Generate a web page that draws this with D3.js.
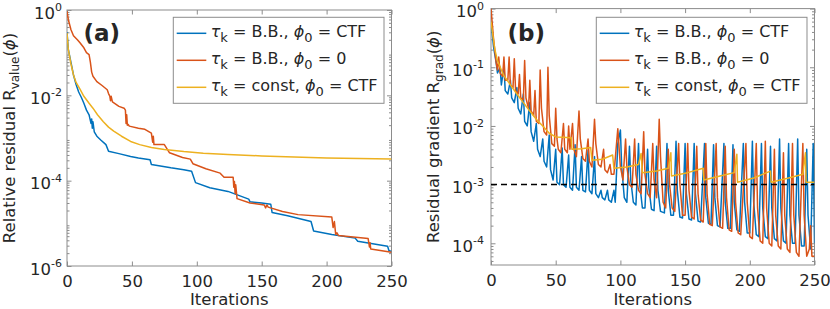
<!DOCTYPE html>
<html>
<head>
<meta charset="utf-8">
<script src="https://cdn.jsdelivr.net/npm/d3@7"></script>
<style>
  body { margin: 0; background: #fff; }
  svg text { font-family: "DejaVu Sans", sans-serif; fill: #262626; white-space: pre; }
</style>
</head>
<body>
<svg id="chart" width="830" height="309"></svg>
<script>
// ---- data ----
const iterTicks = [0, 50, 100, 150, 200, 250];
const valueTicks = [0, -2, -4, -6];          // exponents of 10
const gradTicks = [0, -1, -2, -3, -4];
const legendSteps = ['B.B.', 'B.B.', 'const'];
const legendInits = ['CTF', '0', 'CTF'];
const colors = ['#0072BD', '#D95319', '#EDB120'];
const gradThreshold = 1e-3;

// (a) relative residual, [iteration, value]
const valueBBctf = [[0,0.3],[1,0.12],[3,0.06],[5,0.03],[7,0.018],[9,0.012],[11,0.009],[13,0.0065],[15,0.0045],
  [17,0.0035],[18.5,0.0022],[19,0.0028],[19.5,0.0017],[20,0.0024],[21,0.0014],[23,0.0011],[26,0.0009],[30,0.0007],
  [32,0.00049],[40,0.00043],[49,0.00037],[55,0.00034],[64,0.00031],[65,0.00024],[80,0.0002],[90,0.00018],
  [96,0.000166],[99,0.00009],[110,0.000068],[124,0.000056],[140,0.000037],[141,0.000032],[150,0.00003],
  [157,0.000028],[158,0.000018],[170,0.000015],[188,0.000011],[190,0.0000066],[204,0.0000055],[222,0.0000045],
  [224,0.0000038],[247,0.0000029],[248,0.0000023],[250,0.0000022]];
const valueBBzero = [[0,0.93],[1,0.6],[3,0.35],[5,0.25],[8,0.2],[10,0.17],[13,0.13],[15,0.1],[17,0.09],[18,0.06],
  [19,0.035],[20,0.028],[23,0.021],[27,0.017],[31,0.0135],[32,0.011],[33,0.0095],[33.5,0.0075],[34,0.0095],
  [35,0.007],[40,0.0055],[44,0.005],[45,0.0045],[45.5,0.0022],[46,0.0035],[46.5,0.002],[47,0.0021],[48,0.0019],
  [55,0.0017],[60,0.0016],[65,0.0013],[66,0.0008],[66.5,0.0011],[67,0.0007],[75,0.0007],[79,0.00045],
  [89,0.00035],[95,0.00032],[97,0.00025],[107,0.00019],[118,0.00015],[121,0.00012],[128,0.00012],
  [128.5,0.00007],[129,0.000095],[129.5,0.00005],[130,0.00008],[131,0.000038],[141,0.00003],[152,0.000027],
  [153,0.000023],[154,0.000027],[155,0.000024],[166,0.000019],[178,0.000016],[204,0.000014],[205,0.000008],
  [206,0.000011],[207,0.0000055],[208,0.000006],[209,0.0000052],[232,0.0000044],[233,0.0000028],
  [233.5,0.0000035],[234,0.0000025],[250,0.0000021]];
const valueConstCtf = [[0,0.29],[1,0.12],[3,0.055],[5,0.03],[7,0.02],[10,0.014],[13,0.0095],[17,0.0065],[20,0.005],
  [23.5,0.0035],[28,0.0024],[32,0.0018],[36,0.00145],[42,0.0011],[49,0.00083],[56,0.0007],[65,0.0006],
  [75,0.00054],[90,0.00048],[105,0.00044],[124,0.00041],[150,0.00038],[175,0.00036],[200,0.00034],
  [225,0.00033],[250,0.00032]];

// (b) residual gradient, [iteration, value]
const gradBBctf = [[0,0.6],[2,0.22],[4,0.12],[5,0.08],[7,0.1],[8,0.05],[10,0.1],[11,0.04],[13,0.035],[15,0.06],
  [16,0.03],[18,0.025],[20,0.045],[21,0.02],[23,0.016],[25,0.035],[26,0.012],[28,0.01],[30,0.025],[31,0.008],
  [33,0.0055],[35,0.011],[36,0.004],[38,0.003],[40,0.006],[41,0.0025],[43,0.002],[45,0.007],[46,0.0018],
  [48,0.0012],[50,0.004],[51,0.0011],[53,0.001],[55,0.0042],[56,0.001],[58,0.0009],[60,0.0032],[61,0.0009],
  [63,0.0008],[65,0.0048],[66,0.0009],[68,0.0008],[70,0.003],[71,0.0008],[73,0.00075],[75,0.0038],[76,0.0008],
  [78,0.0007],[80,0.003],[81,0.0007],[83,0.0006],[85,0.0008],[86,0.0006],[88,0.00055],[90,0.0008],[91,0.00055],
  [93,0.0005],[95,0.0008],[96,0.0005],[98,0.005],[100,0.0085],[101,0.002],[103,0.0006],[105,0.0005],
  [107,0.0045],[108,0.0012],[110,0.0005],[112,0.00045],[114,0.005],[115,0.001],[117,0.0004],[119,0.0004],
  [121,0.004],[122,0.0009],[124,0.00038],[126,0.00036],[128,0.0045],[129,0.0008],[131,0.00035],[134,0.00033],
  [136,0.005],[137,0.0008],[139,0.0003],[141,0.0003],[143,0.0055],[144,0.0008],[146,0.00028],[148,0.00027],
  [150,0.005],[151,0.0007],[153,0.00026],[155,0.00025],[157,0.005],[158,0.0007],[160,0.00024],[162,0.00023],
  [165,0.005],[166,0.0006],[168,0.00022],[170,0.00021],[172,0.0048],[173,0.0006],[175,0.0002],[177,0.00019],
  [180,0.005],[181,0.0005],[183,0.00018],[185,0.00018],[187,0.0048],[188,0.0005],[190,0.00017],[192,0.00016],
  [195,0.005],[196,0.0005],[198,0.00015],[200,0.00015],[202,0.0055],[203,0.0005],[205,0.00014],[207,0.00013],
  [209,0.005],[210,0.0004],[212,0.00013],[214,0.00012],[216,0.0045],[217,0.0004],[219,0.00012],[221,0.00011],
  [223,0.006],[224,0.0004],[226,0.00011],[228,0.0001],[230,0.005],[231,0.0003],[233,0.0001],[235,0.0001],
  [237,0.006],[238,0.0003],[240,0.00009],[242,0.00009],[244,0.004],[245,0.0003],[247,0.00008],[249,0.005],
  [250,0.0001]];
const gradBBzero = [[0,1.0],[2,0.3],[4,0.12],[5,0.09],[6,0.15],[7,0.08],[9,0.07],[10,0.15],[11,0.06],[13,0.06],
  [14,0.15],[15,0.05],[17,0.045],[18,0.14],[19,0.04],[21,0.035],[22,0.075],[23,0.03],[25,0.028],[26,0.13],
  [27,0.03],[29,0.02],[30,0.06],[31,0.018],[33,0.015],[34,0.04],[35,0.012],[37,0.011],[38,0.09],[39,0.02],
  [41,0.008],[43,0.007],[44,0.1],[45,0.015],[47,0.005],[49,0.0045],[50,0.02],[51,0.006],[52,0.004],[54,0.0035],
  [56,0.011],[57,0.004],[59,0.0035],[60,0.01],[61,0.004],[63,0.011],[64,0.004],[66,0.003],[68,0.018],[69,0.006],
  [71,0.0028],[73,0.0025],[75,0.006],[76,0.0025],[78,0.002],[80,0.013],[81,0.005],[83,0.0022],[85,0.002],
  [87,0.004],[88,0.0018],[90,0.0016],[92,0.0022],[93,0.0015],[95,0.0015],[98,0.009],[100,0.002],[102,0.0012],
  [104,0.006],[105,0.002],[107,0.001],[109,0.0009],[111,0.006],[112,0.0015],[114,0.0008],[116,0.0007],
  [118,0.008],[119,0.0015],[121,0.0007],[123,0.0006],[125,0.005],[126,0.0012],[128,0.0006],[130,0.013],
  [131,0.003],[133,0.0005],[135,0.0004],[137,0.004],[138,0.001],[140,0.0004],[142,0.00035],[145,0.005],
  [146,0.001],[148,0.0003],[150,0.0003],[152,0.005],[153,0.0008],[155,0.00028],[157,0.00026],[159,0.0045],
  [160,0.0007],[162,0.00025],[164,0.00023],[166,0.005],[167,0.0007],[169,0.00021],[171,0.0002],[174,0.005],
  [175,0.0006],[177,0.00019],[179,0.00018],[181,0.0045],[182,0.0006],[184,0.00017],[186,0.00016],[188,0.004],
  [189,0.0005],[191,0.00015],[193,0.00014],[197,0.005],[198,0.0005],[200,0.00013],[202,0.00012],[205,0.005],
  [206,0.0004],[208,0.00011],[210,0.0001],[212,0.0055],[213,0.0004],[215,0.0001],[217,0.00009],[219,0.004],
  [220,0.0003],[222,0.00009],[224,0.00008],[226,0.0035],[227,0.0003],[229,0.00008],[231,0.00007],[233,0.005],
  [234,0.0003],[236,0.00007],[238,0.00006],[241,0.005],[242,0.0003],[244,0.00006],[246,0.00008],[247,0.0002],
  [248,0.00006],[250,0.00006]];
const gradConstCtf = [[0,0.6],[3,0.2],[5,0.13],[8,0.09],[10,0.072],[15,0.05],[20,0.035],[25,0.025],[30,0.018],
  [35,0.013],[40,0.01],[45,0.0075],[50,0.0065],[55,0.0064],[62,0.0063],[62.5,0.004],[70,0.0041],[77,0.0043],
  [78,0.0026],[86,0.0027],[94,0.0032],[95,0.0019],[105,0.002],[114,0.0022],[116,0.0034],[117,0.0016],
  [128,0.0017],[137,0.0019],[139,0.0035],[139.5,0.0014],[152,0.0016],[164,0.0019],[164.5,0.0012],[177,0.0014],
  [188,0.0016],[190,0.0033],[190.5,0.0011],[203,0.0013],[216,0.0017],[216.5,0.0011],[230,0.0013],[241,0.0015],
  [243,0.0035],[243.5,0.0011],[250,0.0011]];

const axisColor = '#8c8c8c';
const svg = d3.select('#chart');

function drawPanel(p) {
  const x = d3.scaleLinear().domain([0, 250]).range([p.left, p.right]);
  const y = d3.scaleLog().domain(p.yDomain).range([p.bottom, p.top]);
  const g = svg.append('g');

  // minor tick positions 2..9 x 10^e
  const minor = [];
  for (let e = Math.floor(Math.log10(p.yDomain[0])); e < 0; e++) {
    for (let m = 2; m <= 9; m++) {
      const v = m * Math.pow(10, e);
      if (v >= p.yDomain[0] && v <= p.yDomain[1]) minor.push(v);
    }
  }
  const majors = p.ticks.map(e => Math.pow(10, e));

  const axes = g.append('g').attr('color', axisColor);
  axes.append('g').attr('transform', 'translate(0,' + p.bottom + ')')
    .call(d3.axisBottom(x).tickValues(iterTicks).tickSizeInner(-4.5).tickSizeOuter(0).tickPadding(8.8));
  axes.append('g').attr('transform', 'translate(0,' + p.top + ')')
    .call(d3.axisTop(x).tickValues(iterTicks).tickSizeInner(-4.5).tickSizeOuter(0).tickFormat(''));
  axes.append('g').attr('transform', 'translate(' + p.left + ',0)')
    .call(d3.axisLeft(y).tickValues(majors).tickSizeInner(-4.5).tickSizeOuter(0).tickFormat(''));
  axes.append('g').attr('transform', 'translate(' + p.right + ',0)')
    .call(d3.axisRight(y).tickValues(majors).tickSizeInner(-4.5).tickSizeOuter(0).tickFormat(''));
  axes.append('g').attr('transform', 'translate(' + p.left + ',0)')
    .call(d3.axisLeft(y).tickValues(minor).tickSizeInner(-2.5).tickSizeOuter(0).tickFormat(''));
  axes.append('g').attr('transform', 'translate(' + p.right + ',0)')
    .call(d3.axisRight(y).tickValues(minor).tickSizeInner(-2.5).tickSizeOuter(0).tickFormat(''));
  axes.selectAll('.domain').remove();
  axes.selectAll('text').attr('font-size', 16.5).attr('fill', '#262626').attr('font-family', '"DejaVu Sans", sans-serif');

  g.append('rect')
    .attr('x', p.left).attr('y', p.top)
    .attr('width', p.right - p.left).attr('height', p.bottom - p.top)
    .attr('fill', 'none').attr('stroke', axisColor);

  // y tick labels 10^e
  const yl = g.selectAll('.ylab').data(p.ticks).enter().append('text')
    .attr('class', 'ylab')
    .attr('x', p.left - p.labelGap)
    .attr('y', d => y(Math.pow(10, d)) + 8.5)
    .attr('text-anchor', 'end')
    .attr('font-size', 16.5);
  yl.append('tspan').text('10');
  yl.append('tspan').attr('font-size', 11).attr('dy', -7.5).text(d => d === 0 ? '0' : '-' + (-d));

  // lines
  const clipId = 'clip' + p.name;
  svg.append('defs').append('clipPath').attr('id', clipId).append('rect')
    .attr('x', p.left).attr('y', p.top).attr('width', p.right - p.left).attr('height', p.bottom - p.top);
  const line = d3.line().x(d => x(d[0])).y(d => y(d[1]));
  const lines = g.append('g').attr('clip-path', 'url(#' + clipId + ')');
  p.series.forEach((s, i) => {
    lines.append('path').datum(s)
      .attr('d', line)
      .attr('fill', 'none')
      .attr('stroke', colors[i])
      .attr('stroke-width', 1.5)
      .attr('stroke-linejoin', 'round');
  });
  if (p.threshold) {
    lines.append('line')
      .attr('x1', x(0)).attr('x2', x(250))
      .attr('y1', y(p.threshold)).attr('y2', y(p.threshold))
      .attr('stroke', '#000').attr('stroke-width', 1.5).attr('stroke-dasharray', '6,4');
  }

  // axis titles
  g.append('text')
    .attr('x', (p.left + p.right) / 2).attr('y', 305)
    .attr('text-anchor', 'middle').attr('font-size', 16.5)
    .text('Iterations');
  const yt = g.append('text')
    .attr('transform', 'translate(' + (p.left - 52) + ',' + (p.top + p.bottom) / 2 + ') rotate(-90)')
    .attr('text-anchor', 'middle').attr('font-size', 16.5);
  yt.append('tspan').text(p.yTitle + ' R');
  yt.append('tspan').attr('font-size', 12).attr('dy', 4).text(p.ySub);
  yt.append('tspan').attr('dy', -4).text('(');
  yt.append('tspan').attr('font-style', 'italic').text('ϕ');
  yt.append('tspan').text(')');

  // panel tag
  g.append('text')
    .attr('x', p.left + 16.5).attr('y', 41)
    .attr('font-size', 23).attr('font-weight', 'bold').attr('fill', '#000')
    .text(p.tag);

  // legend
  const lg = g.append('g').attr('transform', 'translate(' + p.legendX + ',17.3)');
  lg.append('rect').attr('width', 210.7).attr('height', 86)
    .attr('fill', '#fff').attr('stroke', axisColor);
  legendSteps.forEach((s, i) => {
    const cy = 16 + i * 27;
    lg.append('line').attr('x1', 3.4).attr('x2', 33).attr('y1', cy).attr('y2', cy)
      .attr('stroke', colors[i]).attr('stroke-width', 1.5);
    const t = lg.append('text').attr('x', 37.4).attr('y', cy + 4).attr('font-size', 16);
    t.append('tspan').attr('font-style', 'italic').text('τ');
    t.append('tspan').attr('font-size', 13).attr('dy', 5).text('k');
    t.append('tspan').attr('dy', -5).text(' = ' + s + ', ');
    t.append('tspan').attr('font-style', 'italic').text('ϕ');
    t.append('tspan').attr('font-size', 13).attr('dy', 5).text('0');
    t.append('tspan').attr('dy', -5).text(' = ' + legendInits[i]);
  });
}

drawPanel({
  name: 'a', tag: '(a)',
  left: 67, right: 391.5, top: 10, bottom: 266,
  yDomain: [1e-6, 1], ticks: valueTicks, labelGap: 5,
  yTitle: 'Relative residual', ySub: 'value',
  series: [valueBBctf, valueBBzero, valueConstCtf],
  legendX: 173.3
});

drawPanel({
  name: 'b', tag: '(b)',
  left: 491, right: 814.5, top: 8.6, bottom: 265,
  yDomain: [Math.pow(10, -4.37), 1], ticks: gradTicks, labelGap: 7,
  yTitle: 'Residual gradient', ySub: 'grad',
  series: [gradBBctf, gradBBzero, gradConstCtf],
  threshold: gradThreshold,
  legendX: 596.3
});
</script>
</body>
</html>
